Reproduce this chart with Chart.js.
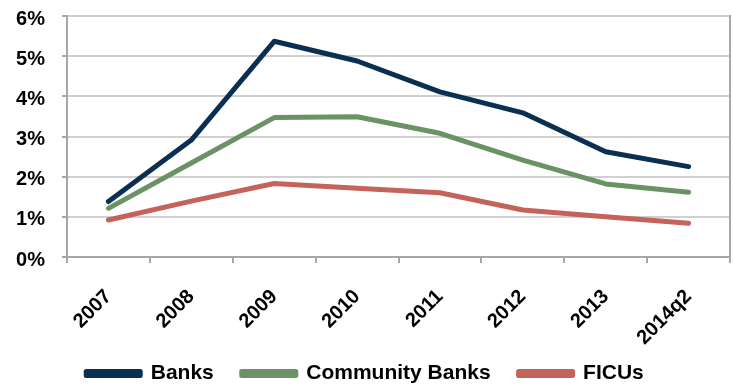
<!DOCTYPE html>
<html><head><meta charset="utf-8">
<script src="https://cdn.jsdelivr.net/npm/chart.js@4"></script>
<style>html,body{margin:0;padding:0;background:#fff}#wrap{width:733px;height:385px;position:relative}</style>
</head><body><div id="wrap"><canvas id="c"></canvas></div>
<script>
const categories = ['2007','2008','2009','2010','2011','2012','2013','2014q2'];
const banks = [1.38, 2.91, 5.37, 4.88, 4.11, 3.59, 2.62, 2.25];
const communityBanks = [1.21, 2.34, 3.47, 3.49, 3.08, 2.41, 1.82, 1.61];
const ficus = [0.92, 1.39, 1.83, 1.71, 1.60, 1.17, 1.00, 0.84];
const yTicks = [0,1,2,3,4,5,6];

const FONT = 'Arial, "Liberation Sans", sans-serif';
const axisColor = '#a6a6a6';
const gridColor = '#d0d0d0';

function ds(label, data, color){
  return {label, data, borderColor: color, backgroundColor: color, borderWidth: 5,
    pointRadius: 0, pointHoverRadius: 0, tension: 0, fill: false,
    borderCapStyle: 'round', borderJoinStyle: 'round'};
}
function noPad(s){ s.paddingTop = 0; s.paddingBottom = 0; s.paddingLeft = 0; s.paddingRight = 0; }

new Chart(document.getElementById('c'), {
  type: 'line',
  data: { labels: categories, datasets: [
    ds('Banks', banks, '#0a2f50'),
    ds('Community Banks', communityBanks, '#6a9264'),
    ds('FICUs', ficus, '#c4625c')
  ]},
  options: {
    responsive: true, maintainAspectRatio: false, animation: false,
    events: [],
    layout: { padding: { top: 16, right: 3, left: 0, bottom: -9 } },
    plugins: {
      tooltip: { enabled: false },
      legend: { position: 'bottom', align: 'center',
        labels: { boxWidth: 54, boxHeight: 4, padding: 28, color: '#000',
          font: { family: FONT, size: 21, weight: 'bold' } } }
    },
    scales: {
      x: {
        offset: true,
        grid: { display: true, drawOnChartArea: false, drawTicks: true, tickLength: 6,
          offset: true, color: axisColor, tickColor: axisColor, lineWidth: 2, tickWidth: 2 },
        border: { display: true, color: axisColor, width: 2 },
        ticks: { color: '#000', font: { family: FONT, size: 20, weight: 'bold' },
          maxRotation: 45, minRotation: 45, padding: 22, autoSkip: false },
        afterFit: s => { s.height = 78; noPad(s); s._computeLabelArea = () => undefined; }
      },
      y: {
        min: 0, max: 6,
        afterBuildTicks: s => { s.ticks = yTicks.map(v => ({value: v})); },
        grid: { color: gridColor, lineWidth: 2, tickLength: 5, tickColor: axisColor, tickWidth: 2 },
        border: { display: true, color: axisColor, width: 2 },
        ticks: { color: '#000', padding: 17, labelOffset: 3, callback: v => v + '%',
          font: { family: FONT, size: 20, weight: 'bold' } },
        afterFit: s => { s.width = 67; noPad(s); }
      },
      y2: {
        position: 'right', min: 0, max: 6,
        grid: { drawOnChartArea: false, drawTicks: false },
        border: { display: true, color: axisColor, width: 2 },
        ticks: { display: false },
        afterFit: s => { s.width = 0; noPad(s); }
      }
    }
  }
});
</script></body></html>
